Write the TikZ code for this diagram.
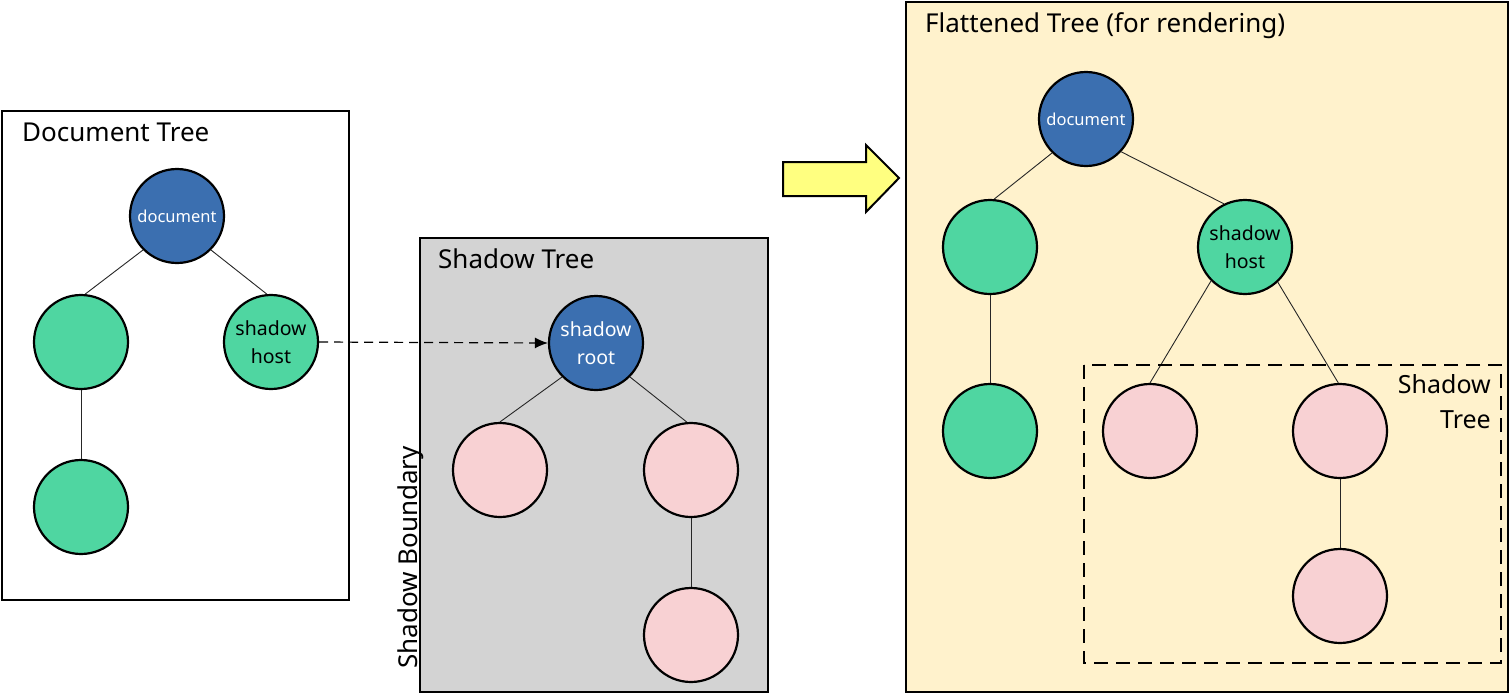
\documentclass[tikz,border=0pt]{standalone}
\usepackage{fontspec}
\setmainfont{Noto Sans}
\usetikzlibrary{arrows.meta}
\definecolor{docblue}{HTML}{3B6FB0}
\definecolor{nodegreen}{HTML}{4FD6A1}
\definecolor{nodepink}{HTML}{F8D1D3}
\definecolor{shadowgray}{HTML}{D3D3D3}
\definecolor{flatfill}{HTML}{FFF2CC}
\definecolor{arrowyellow}{HTML}{FFFF80}
\begin{document}
\begin{tikzpicture}[x=1pt,y=-1pt,
  panel/.style={draw=black,line width=2.2pt},
  title/.style={anchor=base west,inner sep=0pt,font=\fontsize{26}{31}\selectfont},
  treenode/.style={circle,draw=black,line width=2.2pt,minimum size=94pt,inner sep=0pt,align=center},
  bluenode/.style={treenode,fill=docblue,text=white},
  greennode/.style={treenode,fill=nodegreen},
  pinknode/.style={treenode,fill=nodepink},
  smalltxt/.style={font=\fontsize{16.5}{20}\selectfont},
  twoline/.style={font=\fontsize{19.5}{28}\selectfont},
  edge/.style={draw=black!85,line width=0.9pt}
]
\useasboundingbox (0,0) rectangle (1510,694);

% ---------- Document tree ----------
\draw[panel,fill=white] (2,111) rectangle (349,600);
\node[title] (dtitle) at (22,141) {Document Tree};
\node[bluenode,smalltxt] (d1) at (177,216) {document};
\node[greennode] (d2) at (81,342) {};
\node[greennode,twoline] (d3) at (271,342) {shadow\\host};
\node[greennode] (d4) at (81,507) {};
\draw[edge] (d1.225) -- (d2.85);
\draw[edge] (d1.-45) -- (d3.95);
\draw[edge] (d2.south) -- (d4.north);

% ---------- Shadow tree ----------
\draw[panel,fill=shadowgray] (420,238) rectangle (768,692);
\node[title] (stitle) at (438,268) {Shadow Tree};
\node[title,rotate=90] (sbound) at (417,669) {Shadow Boundary};
\node[bluenode,twoline] (s1) at (596,343) {shadow\\root};
\node[pinknode] (s2) at (500,470) {};
\node[pinknode] (s3) at (691,470) {};
\node[pinknode] (s4) at (691,635) {};
\draw[edge] (s1.225) -- (s2.north);
\draw[edge] (s1.-45) -- (s3.95);
\draw[edge] (s3.south) -- (s4.north);

\draw[line width=1.2pt,dash pattern=on 9pt off 6pt,-{Latex[length=13pt,width=11pt]}] (d3.east) -- (s1.west);

% ---------- Yellow arrow ----------
\draw[line width=2pt,fill=arrowyellow,line join=miter]
  (783,162) -- (866,162) -- (866,145) -- (899,178) -- (866,212) -- (866,196) -- (783,196) -- cycle;

% ---------- Flattened tree ----------
\draw[panel,fill=flatfill] (906,2) rectangle (1508,692);
\node[title] (ftitle) at (925,32) {Flattened Tree (for rendering)};
\node[bluenode,smalltxt] (f1) at (1086,119) {document};
\node[greennode] (f2) at (990,247) {};
\node[greennode,twoline] (f3) at (1245,247) {shadow\\host};
\node[greennode] (f4) at (990,431) {};
\node[pinknode] (f5) at (1150,431) {};
\node[pinknode] (f6) at (1340,431) {};
\node[pinknode] (f7) at (1340,596) {};
\draw[edge] (f1.225) -- (f2.85);
\draw[edge] (f1.-43) -- (f3.116);
\draw[edge] (f2.south) -- (f4.north);
\draw[edge] (f3.225) -- (f5.north);
\draw[edge] (f3.-47) -- (f6.92);
\draw[edge] (f6.south) -- (f7.north);

\draw[line width=2pt,dash pattern=on 14pt off 8pt] (1084,365) rectangle (1501,663);
\node[anchor=base east,inner sep=0pt,align=right,font=\fontsize{25}{35}\selectfont] (stlabel) at (1491,428) {Shadow\\Tree};
\end{tikzpicture}
\end{document}
